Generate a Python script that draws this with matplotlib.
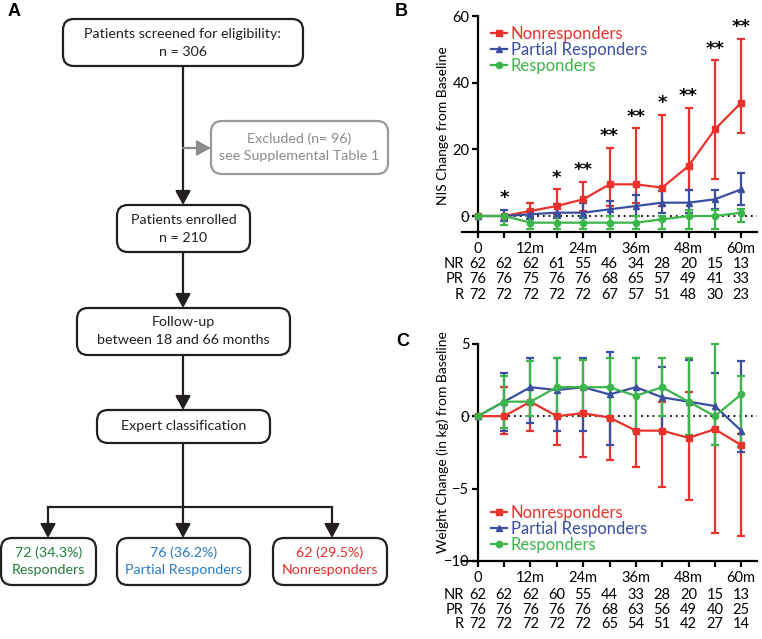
import matplotlib
matplotlib.use('Agg')
import matplotlib.pyplot as plt
import matplotlib.transforms as mtransforms
from matplotlib.patches import FancyBboxPatch, FancyArrowPatch
from matplotlib.lines import Line2D

plt.rcParams['font.family'] = ['Lato', 'DejaVu Sans']

# ---- data ----
months = [0, 6, 12, 18, 24, 30, 36, 42, 48, 54, 60]
month_labels = ['0', '', '12m', '', '24m', '', '36m', '', '48m', '', '60m']
groups = ['Nonresponders', 'Partial Responders', 'Responders']
row_names = ['NR', 'PR', 'R']

# B: NIS change from baseline (median and bar ends)
nis_nr = [0, 0, 1.5, 3, 5, 9.5, 9.5, 8.5, 15, 26, 34]
nis_nr_lo = [0, 0, 0, 0.5, 1.5, 3, 3.9, 3, 7.9, 11, 25]
nis_nr_hi = [0, 0, 4, 8, 10.2, 20.5, 26.3, 30.3, 32.5, 46.7, 53.2]
nis_pr = [0, 0, 0.5, 1, 1, 2, 3, 4, 4, 5, 8]
nis_pr_lo = [0, -1.5, -1, -0.5, -0.5, 0, 0, 0.9, 1, 2, 3.2]
nis_pr_hi = [0, 1.9, 1.5, 3.7, 3.9, 4.4, 6.2, 7.5, 7.9, 7.9, 12.9]
nis_r = [0, 0, -2, -2, -2, -2, -2, -1, 0, 0, 1]
nis_r_lo = [0, -2.8, -4, -4, -4, -4, -4, -4, -4, -4, -1.8]
nis_r_hi = [0, 0, 0, 0, 0, 0, 0, 0, 1.8, 1.9, 2]
nis_stars = ['', '*', '', '*', '**', '**', '**', '*', '**', '**', '**']

n_nis = {'NR': [62, 62, 62, 61, 55, 46, 34, 28, 20, 15, 13],
         'PR': [76, 76, 75, 76, 76, 68, 65, 57, 49, 41, 33],
         'R': [72, 72, 72, 72, 72, 67, 57, 51, 48, 30, 23]}

# C: weight change (kg)
wt_nr = [0, 0, 1.0, 0, 0.2, -0.1, -1.0, -1.0, -1.5, -0.9, -2.0]
wt_nr_lo = [0, -1.2, -1.0, -2.0, -2.8, -3.0, -3.5, -4.9, -5.8, -8.1, -8.3]
wt_nr_hi = [0, 2.0, 1.0, 0, 0.2, -0.1, -1.0, 1.0, 1.7, -0.9, -1.2]
wt_pr = [0, 1.0, 2.0, 1.8, 2.0, 1.5, 2.0, 1.3, 1.0, 0.7, -1.0]
wt_pr_lo = [0, -1.0, -0.5, -1.0, -1.0, -2.0, -1.0, -1.0, -1.3, -2.0, -2.5]
wt_pr_hi = [0, 3.0, 4.0, 4.0, 4.0, 4.4, 4.0, 3.4, 3.9, 3.0, 3.8]
wt_r = [0, 1.0, 1.0, 2.0, 2.0, 2.0, 1.4, 2.0, 1.0, 0, 1.5]
wt_r_lo = [0, -0.8, 0, 0, 0, -0.2, -1.0, 0, -1.3, -2.0, -2.1]
wt_r_hi = [0, 2.8, 3.8, 4.0, 3.9, 4.0, 4.0, 4.0, 4.0, 5.0, 2.8]

n_wt = {'NR': [62, 62, 62, 60, 55, 44, 33, 28, 20, 15, 13],
        'PR': [76, 76, 76, 76, 76, 68, 63, 56, 49, 40, 25],
        'R': [72, 72, 72, 72, 72, 65, 54, 51, 42, 27, 14]}

red, blue, green = '#e8322b', '#3b4ea0', '#3cb54a'
colors = [red, blue, green]
markers = ['s', '^', 'o']

W, H = 762, 639
fig = plt.figure(figsize=(W / 100, H / 100), dpi=100)


def px_axes(l, t, r, b):
    return fig.add_axes([l / W, 1 - b / H, (r - l) / W, (b - t) / H])


def line_panel(ax, series, ylim, yticks, ylabel, label_y):
    for (mid, lo, hi), c, m in zip(series, colors, markers):
        err = [[v - a for v, a in zip(mid, lo)], [b - v for v, b in zip(mid, hi)]]
        ax.errorbar(months, mid, yerr=err, color=c, marker=m, ms=4.5, lw=1.6,
                    elinewidth=1.6, capsize=3, capthick=1.6, clip_on=False, zorder=3)
    ax.axhline(0, color='black', ls=(0, (1, 2.2)), lw=1.3, zorder=2)
    ax.set_xlim(-3.6, 63.6)
    ax.set_ylim(*ylim)
    ax.spines['top'].set_visible(False)
    ax.spines['right'].set_visible(False)
    ax.spines['left'].set_position(('data', 0))
    ax.spines['left'].set_bounds(ylim[0], yticks[-1])
    for s in ['left', 'bottom']:
        ax.spines[s].set_linewidth(1.6)
    ax.set_yticks(yticks)
    ax.set_xticks(months)
    ax.set_xticklabels(month_labels)
    ax.tick_params(axis='both', direction='out', length=4, width=1.6, labelsize=10.5, pad=2)
    ax.tick_params(axis='x', pad=3)
    ax.set_ylabel(ylabel, fontsize=10)
    ax.yaxis.set_label_coords(-0.045, label_y)
    ax.patch.set_alpha(0)


def risk_table(ax, counts, ys):
    tr = mtransforms.blended_transform_factory(ax.transData, fig.transFigure)
    for name, y in zip(row_names, ys):
        ax.text(-3.2, 1 - y / H, name, transform=tr, ha='right', va='center', fontsize=10.5)
        for x, n in zip(months, counts[name]):
            ax.text(x, 1 - y / H, str(n), transform=tr, ha='center', va='center', fontsize=10.5)


def legend(ax, **kw):
    handles = [Line2D([], [], color=c, marker=m, ms=4.5, lw=1.6) for c, m in zip(colors, markers)]
    leg = ax.legend(handles, groups, frameon=False, fontsize=12, handlelength=0.95,
                    handletextpad=0.25, labelspacing=0.0, borderpad=0, **kw)
    for t, c in zip(leg.get_texts(), colors):
        t.set_color(c)


# ---- panel B ----
axB = px_axes(462, 15, 757, 232)
line_panel(axB, [(nis_nr, nis_nr_lo, nis_nr_hi), (nis_pr, nis_pr_lo, nis_pr_hi),
                 (nis_r, nis_r_lo, nis_r_hi)], (-4.8, 60.3), [0, 20, 40, 60],
           'NIS Change from Baseline', 0.49)
for x, s, a, b, c in zip(months, nis_stars, nis_nr_hi, nis_pr_hi, nis_r_hi):
    if s:
        axB.text(x, max(a, b, c) + 0.8, s, ha='center', va='bottom', fontsize=13,
                 fontweight='bold', family='DejaVu Sans')
legend(axB, loc='upper left', bbox_to_anchor=(0.07, 0.99))
risk_table(axB, n_nis, [264, 279, 295])

# ---- panel C ----
axC = px_axes(462, 343, 757, 561)
line_panel(axC, [(wt_nr, wt_nr_lo, wt_nr_hi), (wt_pr, wt_pr_lo, wt_pr_hi),
                 (wt_r, wt_r_lo, wt_r_hi)], (-10, 5.05), [-10, -5, 0, 5],
           'Weight Change (in kg) from Baseline', 0.545)
legend(axC, loc='lower left', bbox_to_anchor=(0.07, 0.0))
risk_table(axC, n_wt, [595, 610, 624])

# ---- panel A: flowchart ----
axA = fig.add_axes([0, 0, 1, 1], zorder=-1)
axA.set_xlim(0, W)
axA.set_ylim(H, 0)
axA.axis('off')

ink = '#231f20'
grey = '#8c8c8c'


def box(x0, y0, x1, y1, lines, color=ink, edge=ink, fs=10.3):
    axA.add_patch(FancyBboxPatch((x0, y0), x1 - x0, y1 - y0,
                                 boxstyle='round,pad=0,rounding_size=11',
                                 fc='white', ec=edge, lw=1.6))
    cy = (y0 + y1) / 2
    n = len(lines)
    for i, (t, c) in enumerate(lines):
        axA.text((x0 + x1) / 2, cy + (i - (n - 1) / 2) * 18, t, ha='center', va='center',
                 fontsize=fs, color=c)


def arrow(x0, y0, x1, y1, color=ink):
    axA.add_patch(FancyArrowPatch((x0, y0), (x1, y1), arrowstyle='-|>,head_length=0.7,head_width=0.38',
                                  mutation_scale=12, color=color, lw=1.6, shrinkA=0, shrinkB=0))


box(63, 19, 303, 66, [('Patients screened for eligibility:', ink), ('n = 306', ink)])
box(211, 121, 388, 174, [('Excluded (n= 96)', grey), ('see Supplemental Table 1', grey)], edge='#9a9a9a')
box(117, 205, 250, 252, [('Patients enrolled', ink), ('n = 210', ink)])
box(77, 308, 290, 355, [('Follow-up', ink), ('between 18 and 66 months', ink)])
box(97, 410, 270, 443, [('Expert classification', ink)])
box(1, 538, 96, 585, [('72 (34.3%)', '#1e7b3d'), ('Responders', '#1e7b3d')])
box(117, 538, 250, 585, [('76 (36.2%)', '#2b7bbf'), ('Partial Responders', '#2b7bbf')])
box(273, 538, 387, 585, [('62 (29.5%)', '#e0302f'), ('Nonresponders', '#e0302f')])

arrow(183, 66, 183, 205)
arrow(183, 148, 211, 148, color=grey)
arrow(183, 252, 183, 308)
arrow(183, 355, 183, 410)
arrow(183, 443, 183, 538)
axA.plot([48, 332], [507, 507], color=ink, lw=1.6)
arrow(48, 507, 48, 538)
arrow(332, 507, 332, 538)

for lab, x, y in [('A', 14, 11), ('B', 401, 11), ('C', 403, 342)]:
    fig.text(x / W, 1 - y / H, lab, fontsize=13, fontweight='bold', family='Liberation Sans',
             ha='center', va='center')

fig.savefig('out.png', dpi=100)
